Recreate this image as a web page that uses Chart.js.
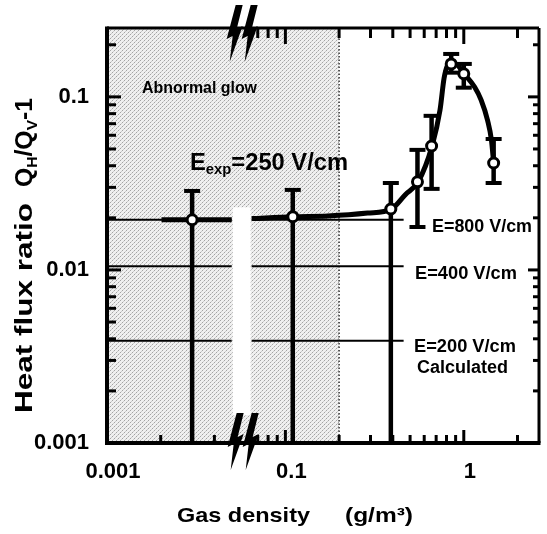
<!DOCTYPE html>
<html>
<head>
<meta charset="utf-8">
<script src="https://cdn.jsdelivr.net/npm/chart.js@4.4.1/dist/chart.umd.min.js"></script>
<style>
  html, body { margin: 0; padding: 0; background: #fff; }
</style>
</head>
<body>
<canvas id="heatFlux" width="547" height="534"></canvas>
<script>
// measured points (density g/m3, heat flux ratio)
var densityExp = [0.003, 0.11, 0.39, 0.55, 0.66, 0.85, 1.0, 1.47];
var ratioExp   = [0.0195, 0.0203, 0.0225, 0.0323, 0.052, 0.155, 0.136, 0.0415];
var ratioErrHi = [0.0286, 0.029, 0.0318, 0.0494, 0.0777, 0.177, 0.155, 0.0571];
var ratioErrLo = [0.001, 0.001, 0.001, 0.0177, 0.0294, 0.138, 0.113, 0.0318];

// hand drawn fit through the points, both sides of the axis break
var fitLowDensity = [0.00202, 0.003, 0.005];
var fitLowRatio   = [0.0195, 0.0195, 0.0195];
var fitDensity = [0.0647, 0.11, 0.173, 0.289, 0.393, 0.47, 0.555, 0.664, 0.736, 0.775, 0.81, 0.85, 0.92, 1.0, 1.15, 1.25, 1.36, 1.43, 1.47];
var fitRatio   = [0.0198, 0.0203, 0.0205, 0.0213, 0.0225, 0.0272, 0.0323, 0.052, 0.084, 0.128, 0.152, 0.158, 0.153, 0.137, 0.114, 0.096, 0.073, 0.056, 0.0415];

// calculated levels, drawn on each side of the break
var calcLabels = ['E=800 V/cm', 'E=400 V/cm', 'E=200 V/cm'];
var calcRatio  = [0.0195, 0.0105, 0.0039];
var calcLowDensity = [0.001, 0.005];
var calcDensity = [0.0647, 0.46];

// axes
var xMin = 0.001, xMax = 2.64, yMin = 0.001, yMax = 0.25;
var breakLo = 0.005, breakHi = 0.0647, breakShift = 1; // decades cut out
var glowLimit = 0.2;
var xMajor = [0.001, 0.1, 1];
var xTickLabels = ['0.001', '0.1', '1'];
var xMinor = [0.002, 0.003, 0.004, 0.07, 0.08, 0.09, 0.2, 0.3, 0.4, 0.5, 0.6, 0.7, 0.8, 0.9, 2];
var yMajor = [0.001, 0.01, 0.1];
var yTickLabels = ['0.001', '0.01', '0.1'];

var FONT = "'Liberation Sans', Arial, Helvetica, sans-serif";

var yMinor = [];
yMajor.forEach(function(d) {
  for (var m = 2; m <= 9; m++) if (d * m < yMax) yMinor.push(d * m);
});

// log axis with a piece cut out between breakLo and breakHi
function toAxis(v) {
  var lo = Math.log10(breakLo), hi = Math.log10(breakHi) - breakShift;
  if (v <= breakLo) return Math.log10(v);
  if (v >= breakHi) return Math.log10(v) - breakShift;
  var t = (Math.log10(v) - Math.log10(breakLo)) / (Math.log10(breakHi) - Math.log10(breakLo));
  return lo + t * (hi - lo);
}
function fromAxis(u) {
  var lo = Math.log10(breakLo), hi = Math.log10(breakHi) - breakShift;
  if (u <= lo) return Math.pow(10, u);
  if (u >= hi) return Math.pow(10, u + breakShift);
  var t = (u - lo) / (hi - lo);
  return Math.pow(10, Math.log10(breakLo) + t * (Math.log10(breakHi) - Math.log10(breakLo)));
}

class BrokenLogScale extends Chart.Scale {
  determineDataLimits() {
    this.min = toAxis(this.options.min);
    this.max = toAxis(this.options.max);
  }
  buildTicks() {
    return xMajor.concat(xMinor).sort(function(a, b) { return a - b; })
      .map(function(v) { return { value: v }; });
  }
  configure() {
    super.configure();
    this._startValue = this.min;
    this._valueRange = this.max - this.min;
  }
  getPixelForValue(v) {
    if (v === null || v === undefined || isNaN(v)) return NaN;
    return this.getPixelForDecimal((toAxis(v) - this._startValue) / this._valueRange);
  }
  getValueForPixel(p) {
    return fromAxis(this._startValue + this.getDecimalForPixel(p) * this._valueRange);
  }
  getPixelForTick(i) {
    return this.getPixelForValue(this.ticks[i].value);
  }
  getLabelForValue(v) { return String(v); }
}
BrokenLogScale.id = 'brokenLog';
BrokenLogScale.defaults = {};
Chart.register(BrokenLogScale);

function pts(xs, ys) {
  return xs.map(function(v, i) { return { x: v, y: ys[i] }; });
}

// stipple for the abnormal glow region
var stipple = (function() {
  var c = document.createElement('canvas');
  c.width = c.height = 4;
  var g = c.getContext('2d');
  g.fillStyle = '#f0f0f0'; g.fillRect(0, 0, 4, 4);
  g.fillStyle = '#a4a4a4'; g.fillRect(0, 0, 1, 1); g.fillRect(2, 2, 1, 1);
  g.fillStyle = '#cccccc'; g.fillRect(1, 3, 1, 1); g.fillRect(3, 1, 1, 1);
  return c;
})();

function textRun(ctx, parts, x, y, width) {
  var total = 0;
  parts.forEach(function(p) {
    ctx.font = 'bold ' + p[1] + 'px ' + FONT;
    total += ctx.measureText(p[0]).width;
  });
  var k = width ? width / total : 1;
  ctx.save();
  ctx.translate(x, y);
  ctx.scale(k, 1);
  var cx = 0;
  parts.forEach(function(p) {
    ctx.font = 'bold ' + p[1] + 'px ' + FONT;
    ctx.fillText(p[0], cx, p[2] || 0);
    cx += ctx.measureText(p[0]).width;
  });
  ctx.restore();
}

function bolt(ctx, x0, y0) {
  var shape = [[10, 0], [17, 0], [11, 24], [17, 21], [4, 57], [7, 31], [1, 34]];
  ctx.beginPath();
  shape.forEach(function(p, i) {
    if (i === 0) ctx.moveTo(x0 + p[0], y0 + p[1]); else ctx.lineTo(x0 + p[0], y0 + p[1]);
  });
  ctx.closePath();
  ctx.fill();
}

var figurePlugin = {
  id: 'figure',
  beforeDatasetsDraw: function(chart) {
    var ctx = chart.ctx, a = chart.chartArea, x = chart.scales.x, y = chart.scales.y;
    ctx.save();
    var gx = x.getPixelForValue(glowLimit);
    ctx.fillStyle = ctx.createPattern(stipple, 'repeat');
    ctx.fillRect(a.left, a.top, gx - a.left, a.bottom - a.top);
    ctx.strokeStyle = '#333';
    ctx.lineWidth = 1.5;
    ctx.setLineDash([1.5, 2]);
    ctx.beginPath(); ctx.moveTo(gx, a.top); ctx.lineTo(gx, a.bottom); ctx.stroke();
    ctx.setLineDash([]);

    // error bars
    ctx.strokeStyle = '#000';
    densityExp.forEach(function(d, i) {
      var px = x.getPixelForValue(d);
      var top = y.getPixelForValue(ratioErrHi[i]);
      var bot = Math.min(y.getPixelForValue(ratioErrLo[i]), a.bottom);
      ctx.lineWidth = 4.5;
      ctx.beginPath(); ctx.moveTo(px, top); ctx.lineTo(px, bot); ctx.stroke();
      ctx.lineWidth = 4;
      ctx.beginPath(); ctx.moveTo(px - 8, top); ctx.lineTo(px + 8, top); ctx.stroke();
      if (ratioErrLo[i] > yMin) {
        ctx.beginPath(); ctx.moveTo(px - 8, bot); ctx.lineTo(px + 8, bot); ctx.stroke();
      }
    });
    ctx.restore();
  },
  afterDatasetsDraw: function(chart) {
    var ctx = chart.ctx, a = chart.chartArea, x = chart.scales.x, y = chart.scales.y;
    ctx.save();

    // blank strip of the axis break
    var b0 = x.getPixelForValue(breakLo), b1 = x.getPixelForValue(breakHi);
    var w0 = y.getPixelForValue(0.023), w1 = y.getPixelForValue(0.00145);
    ctx.fillStyle = '#fff';
    ctx.fillRect(b0 + 1, w0, b1 - b0 - 2, w1 - w0);

    ctx.strokeStyle = '#000';
    ctx.fillStyle = '#000';
    ctx.lineCap = 'butt';

    // frame
    ctx.lineWidth = 4;
    ctx.beginPath(); ctx.moveTo(a.left, a.top - 1.5); ctx.lineTo(a.left, a.bottom + 2); ctx.stroke();
    ctx.beginPath(); ctx.moveTo(a.left - 2, a.bottom); ctx.lineTo(a.right + 1.5, a.bottom); ctx.stroke();
    ctx.lineWidth = 3;
    ctx.beginPath(); ctx.moveTo(a.left, a.top); ctx.lineTo(a.right, a.top); ctx.stroke();
    ctx.beginPath(); ctx.moveTo(a.right, a.top); ctx.lineTo(a.right, a.bottom); ctx.stroke();

    // inward ticks
    ctx.lineWidth = 3;
    function tickY(v, lenL, lenR) {
      var py = y.getPixelForValue(v);
      ctx.beginPath(); ctx.moveTo(a.left, py); ctx.lineTo(a.left + lenL, py); ctx.stroke();
      ctx.beginPath(); ctx.moveTo(a.right, py); ctx.lineTo(a.right - lenR, py); ctx.stroke();
    }
    yMajor.forEach(function(v) { tickY(v, 14, 11); });
    yMinor.forEach(function(v) { tickY(v, 9, 6); });
    function tickX(v, lenB, lenT) {
      var px = x.getPixelForValue(v);
      ctx.beginPath(); ctx.moveTo(px, a.bottom); ctx.lineTo(px, a.bottom - lenB); ctx.stroke();
      if (v >= breakHi) {
        ctx.beginPath(); ctx.moveTo(px, a.top); ctx.lineTo(px, a.top + lenT); ctx.stroke();
      }
    }
    xMajor.forEach(function(v) { if (v > xMin) tickX(v, 13, 16); });
    xMinor.forEach(function(v) { tickX(v, 8, 10); });

    // break marks
    var bx = (b0 + b1) / 2;
    bolt(ctx, bx - 16, a.top - 23);
    bolt(ctx, bx - 1, a.top - 23);
    bolt(ctx, bx - 15, a.bottom - 30);
    bolt(ctx, bx, a.bottom - 30);

    // annotations
    ctx.textBaseline = 'alphabetic';
    ctx.textAlign = 'left';
    textRun(ctx, [['Abnormal glow', 16]], 142, 93, 115);
    textRun(ctx, [['E', 24], ['exp', 15, 4], ['=250 V/cm', 24]], 190, 170, 158);
    var labelX = [432, 415, 414], labelW = [100, 102, 102], labelDy = [12, 13, 11];
    calcLabels.forEach(function(t, i) {
      textRun(ctx, [[t, 17.5]], labelX[i], y.getPixelForValue(calcRatio[i]) + labelDy[i], labelW[i]);
    });
    textRun(ctx, [['Calculated', 17.5]], 417, y.getPixelForValue(calcRatio[2]) + 32, 91);

    // axis titles
    textRun(ctx, [['Gas density', 21]], 177, 522, 133);
    textRun(ctx, [['(g/m³)', 21]], 345, 522, 68);
    ctx.save();
    ctx.translate(32, 413);
    ctx.rotate(-Math.PI / 2);
    textRun(ctx, [['Heat flux ratio', 24]], 0, 0, 210);
    textRun(ctx, [['Q', 24], ['H', 15, 5], ['/Q', 24], ['V', 15, 5], ['-1', 24]], 226, 0, 89);
    ctx.restore();
    ctx.restore();
  }
};

function lineSet(label, data, width, curved) {
  return {
    label: label,
    data: data,
    borderColor: '#000',
    borderWidth: width,
    pointRadius: 0,
    tension: 0,
    cubicInterpolationMode: curved ? 'monotone' : 'default'
  };
}

var ctx = document.getElementById('heatFlux').getContext('2d');
var datasets = [{
  label: 'measured',
  data: pts(densityExp, ratioExp),
  showLine: false,
  pointStyle: 'circle',
  pointRadius: 5,
  pointBorderWidth: 3,
  pointBackgroundColor: '#fff',
  pointBorderColor: '#000'
}];
datasets.push(lineSet('fit low', pts(fitLowDensity, fitLowRatio), 5, false));
datasets.push(lineSet('fit', pts(fitDensity, fitRatio), 5, true));
calcRatio.forEach(function(r, i) {
  datasets.push(lineSet(calcLabels[i] + ' low', pts(calcLowDensity, [r, r]), 2, false));
  datasets.push(lineSet(calcLabels[i], pts(calcDensity, [r, r]), 2, false));
});

new Chart(ctx, {
  type: 'line',
  data: { datasets: datasets },
  options: {
    responsive: false,
    animation: false,
    devicePixelRatio: 1,
    layout: { padding: { left: 0, right: 4, top: 28, bottom: 0 } },
    plugins: { legend: { display: false }, tooltip: { enabled: false } },
    scales: {
      x: {
        type: 'brokenLog',
        position: 'bottom',
        min: xMin,
        max: xMax,
        grid: { display: false },
        border: { display: false },
        afterFit: function(s) { s.height = 91; },
        ticks: {
          autoSkip: false,
          maxRotation: 0,
          padding: 8,
          labelOffset: 6,
          color: '#000',
          font: { family: FONT, size: 22, weight: 'bold' },
          callback: function(v) {
            var k = xMajor.indexOf(v);
            return k >= 0 ? xTickLabels[k] : '';
          }
        }
      },
      y: {
        type: 'logarithmic',
        position: 'left',
        min: yMin,
        max: yMax,
        grid: { display: false },
        border: { display: false },
        afterFit: function(s) { s.width = 107; },
        afterBuildTicks: function(s) {
          s.ticks = yMajor.map(function(v) { return { value: v, major: true }; });
        },
        ticks: {
          autoSkip: false,
          padding: 10,
          color: '#000',
          font: { family: FONT, size: 22, weight: 'bold' },
          callback: function(v) {
            var k = yMajor.indexOf(v);
            return k >= 0 ? yTickLabels[k] : '';
          }
        }
      }
    }
  },
  plugins: [figurePlugin]
});
</script>
</body>
</html>
